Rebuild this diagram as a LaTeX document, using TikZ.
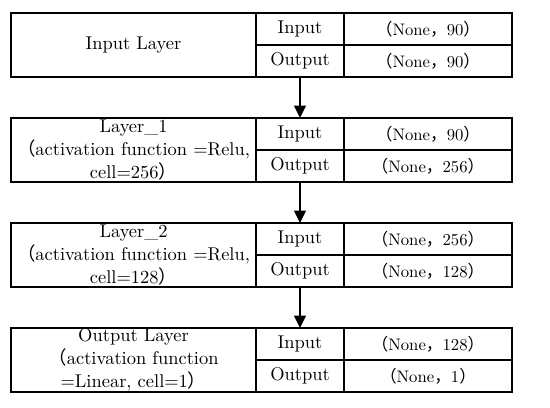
\documentclass[tikz,border=0pt]{standalone}
\usepackage{fontspec}
\newfontfamily\cjk{Noto Sans CJK SC}
\usepackage{tikz}
\usetikzlibrary{arrows.meta,positioning}
\newcommand{\flp}{{\cjk （}}
\newcommand{\frp}{{\cjk ）}}
\newcommand{\fcm}{{\cjk ，}}
\tikzset{
  lcell/.style={draw,line width=0.8pt,minimum width=4.9cm,minimum height=1.28cm,outer sep=0pt,
                align=center,inner sep=0pt,font=\fontsize{10.5}{13}\selectfont},
  mcell/.style={draw,line width=0.8pt,minimum width=1.76cm,minimum height=0.64cm,outer sep=0pt,
                inner sep=0pt,anchor=north west,font=\fontsize{10.5}{13}\selectfont},
  rcell/.style={draw,line width=0.8pt,minimum width=3.36cm,minimum height=0.64cm,outer sep=0pt,
                inner sep=0pt,anchor=north west,font=\fontsize{9.5}{11}\selectfont},
  arr/.style={-{Triangle[length=2.5mm,width=2.4mm]},line width=0.8pt},
}
\begin{document}
\begin{tikzpicture}
  \useasboundingbox (0,0) rectangle (11,-8.14);
  % input layer
  \node[lcell,anchor=north west] (l1) at (0.22,-0.26) {Input Layer};
  \node[mcell] (in1) at (l1.north east) {Input};
  \node[mcell] (out1) at (in1.south west) {Output};
  \node[rcell] (vin1) at (in1.north east) {\flp None\fcm 90\frp};
  \node[rcell] (vout1) at (out1.north east) {\flp None\fcm 90\frp};
  % layer 1
  \node[lcell,below=0.82cm of l1] (l2) {Layer\_1\\\flp activation function =Relu,\\cell=256\frp};
  \node[mcell] (in2) at (l2.north east) {Input};
  \node[mcell] (out2) at (in2.south west) {Output};
  \node[rcell] (vin2) at (in2.north east) {\flp None\fcm 90\frp};
  \node[rcell] (vout2) at (out2.north east) {\flp None\fcm 256\frp};
  % layer 2
  \node[lcell,below=0.82cm of l2] (l3) {Layer\_2\\\flp activation function =Relu,\\cell=128\frp};
  \node[mcell] (in3) at (l3.north east) {Input};
  \node[mcell] (out3) at (in3.south west) {Output};
  \node[rcell] (vin3) at (in3.north east) {\flp None\fcm 256\frp};
  \node[rcell] (vout3) at (out3.north east) {\flp None\fcm 128\frp};
  % output layer
  \node[lcell,below=0.82cm of l3] (l4) {Output Layer\\\flp activation function\\=Linear, cell=1\frp};
  \node[mcell] (in4) at (l4.north east) {Input};
  \node[mcell] (out4) at (in4.south west) {Output};
  \node[rcell] (vin4) at (in4.north east) {\flp None\fcm 128\frp};
  \node[rcell] (vout4) at (out4.north east) {\flp None\fcm 1\frp};
  % arrows
  \draw[arr] (out1.south) -- (in2.north);
  \draw[arr] (out2.south) -- (in3.north);
  \draw[arr] (out3.south) -- (in4.north);
\end{tikzpicture}
\end{document}
